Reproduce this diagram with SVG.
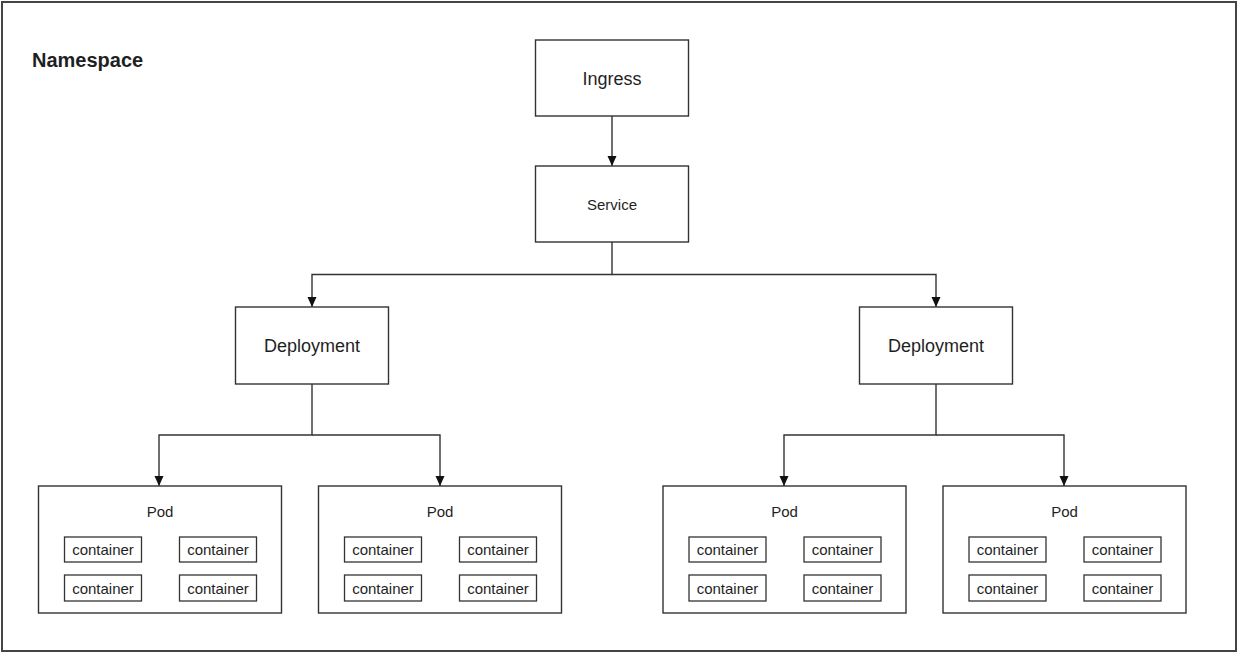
<svg xmlns="http://www.w3.org/2000/svg" width="1240" height="655" viewBox="0 0 1240 655">
<defs>
<style>
.box{fill:#fff;stroke:#333;stroke-width:1.4}
.c{fill:#fff;stroke:#333;stroke-width:1.3}
.t{font-family:"Liberation Sans",Arial,Helvetica,sans-serif;fill:#1f1f1f;text-anchor:middle;dominant-baseline:central}
.link{fill:none;stroke:#333;stroke-width:1.4}
</style>
<marker id="arr" viewBox="0 0 10 10" refX="10" refY="5" markerWidth="10" markerHeight="10" markerUnits="userSpaceOnUse" orient="auto">
<path d="M0,0.5 L10,5 L0,9.5 Z" fill="#111"/>
</marker>
<g id="pod">
<rect class="box" x="0" y="0" width="243" height="127"/>
<text class="t" x="121.5" y="25" font-size="15">Pod</text>
<rect class="c" x="26" y="51" width="77" height="25"/>
<text class="t" x="64.5" y="63.5" font-size="15">container</text>
<rect class="c" x="141" y="51" width="77" height="25"/>
<text class="t" x="179.5" y="63.5" font-size="15">container</text>
<rect class="c" x="26" y="89" width="77" height="26"/>
<text class="t" x="64.5" y="102" font-size="15">container</text>
<rect class="c" x="141" y="89" width="77" height="26"/>
<text class="t" x="179.5" y="102" font-size="15">container</text>
</g>
</defs>
<rect width="1240" height="655" fill="#fff"/>
<g id="namespace">
<rect x="2" y="2" width="1234" height="649" fill="none" stroke="#444" stroke-width="2"/>
<text class="t" x="32" y="60" font-size="20" font-weight="bold" style="text-anchor:start">Namespace</text>
</g>
<g id="connectors">
<path class="link" d="M612,116 V166" marker-end="url(#arr)"/>
<path class="link" d="M612,242 V274.5 H312 V307" marker-end="url(#arr)"/>
<path class="link" d="M612,274.5 H936 V307" marker-end="url(#arr)"/>
<path class="link" d="M312,384 V435 H159 V486" marker-end="url(#arr)"/>
<path class="link" d="M312,435 H440 V486" marker-end="url(#arr)"/>
<path class="link" d="M936,384 V435 H784 V486" marker-end="url(#arr)"/>
<path class="link" d="M936,435 H1064 V486" marker-end="url(#arr)"/>
</g>
<g id="ingress">
<rect class="box" x="535.5" y="40" width="153" height="76"/>
<text class="t" x="612" y="79" font-size="18">Ingress</text>
</g>
<g id="service">
<rect class="box" x="535.5" y="166" width="153" height="76"/>
<text class="t" x="612" y="204" font-size="15">Service</text>
</g>
<g id="deployment1">
<rect class="box" x="235.5" y="307" width="153" height="77"/>
<text class="t" x="312" y="346" font-size="18">Deployment</text>
</g>
<g id="deployment2">
<rect class="box" x="859.5" y="307" width="153" height="77"/>
<text class="t" x="936" y="346" font-size="18">Deployment</text>
</g>
<g id="pod1"><use href="#pod" x="38.5" y="486"/></g>
<g id="pod2"><use href="#pod" x="318.5" y="486"/></g>
<g id="pod3"><use href="#pod" x="663" y="486"/></g>
<g id="pod4"><use href="#pod" x="943" y="486"/></g>
</svg>
